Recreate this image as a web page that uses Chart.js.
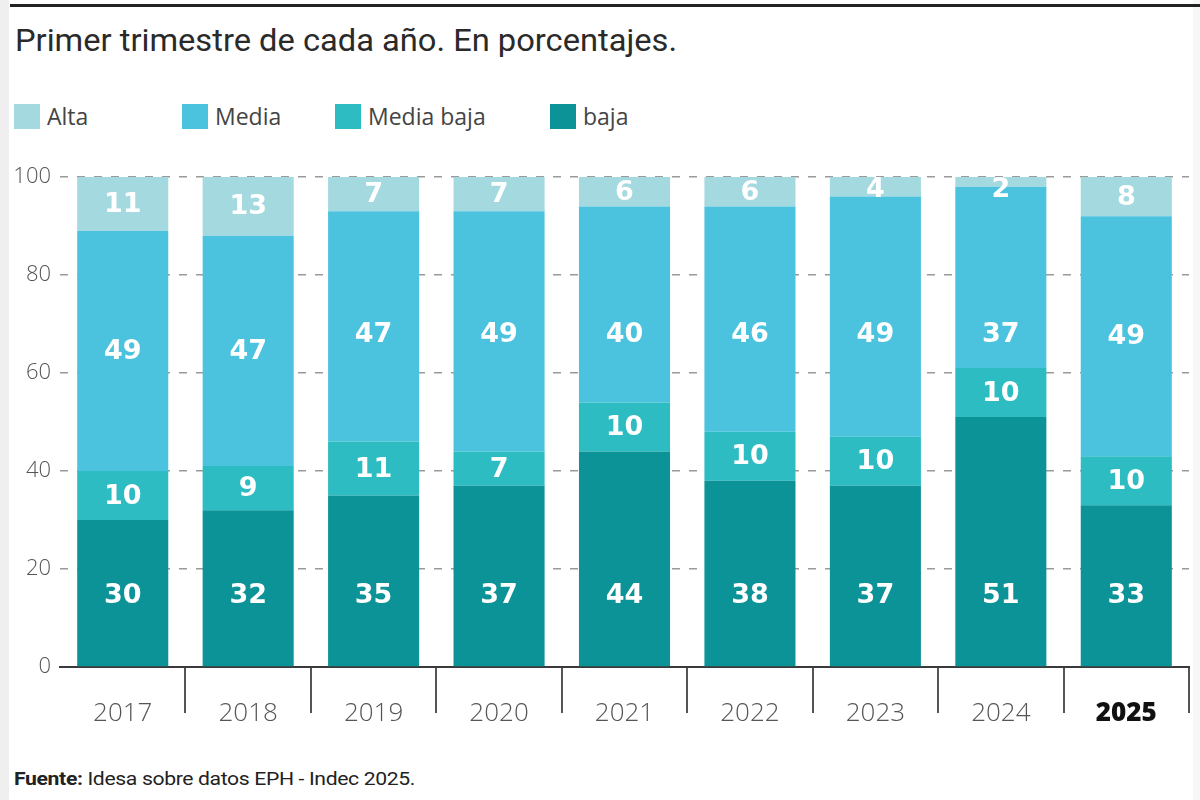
<!DOCTYPE html>
<html>
<head>
<meta charset="utf-8">
<script src="https://cdn.jsdelivr.net/npm/chart.js@4.4.1/dist/chart.umd.min.js"></script>
<style>
  html, body { margin: 0; padding: 0; background: #ffffff; }
  #wrap { position: relative; width: 1200px; height: 800px; overflow: hidden; background: #fff; }
  #lstrip { position: absolute; left: 0; top: 0; width: 9px; height: 800px; background: #efefef; }
  #rstrip { position: absolute; right: 0; top: 0; width: 7px; height: 800px; background: #f7f7f7; }
  #topline { position: absolute; left: 10px; top: 4px; width: 1190px; height: 3px; background: #222; }
  #title { position: absolute; left: 15px; top: 24px; font-family: Roboto, "Open Sans", sans-serif; font-size: 32px; line-height: 32px; color: #2a2a2a; white-space: nowrap; transform-origin: 0 0; }
  #legend { position: absolute; left: 0; top: 103px; width: 1200px; height: 26px; }
  .li { position: absolute; top: 0; height: 26px; display: flex; align-items: center; font-family: "Open Sans", sans-serif; font-size: 23px; color: #444; white-space: nowrap; }
  .li .sw { width: 26px; height: 25px; margin-right: 7px; }
  #canvasBox { position: absolute; left: 0; top: 150px; width: 1200px; height: 610px; }
  #source { position: absolute; left: 14px; top: 770px; font-family: Roboto, sans-serif; font-size: 18px; line-height: 18px; color: #222; white-space: nowrap; transform-origin: 0 0; letter-spacing: -0.3px; }
  #source b { font-weight: 700; }
</style>
</head>
<body>
<div id="wrap">
  <div id="lstrip"></div>
  <div id="rstrip"></div>
  <div id="topline"></div>
  <div id="title">Primer trimestre de cada año. En porcentajes.</div>
  <div id="legend"></div>
  <div id="canvasBox"><canvas id="c" width="1200" height="610"></canvas></div>
  <div id="source"><b>Fuente:</b> Idesa sobre datos EPH - Indec 2025.</div>
</div>
<script>
// ---- data ----
const years = ["2017", "2018", "2019", "2020", "2021", "2022", "2023", "2024", "2025"];
const seriesNames = ["Alta", "Media", "Media baja", "baja"];
const alta = [11, 13, 7, 7, 6, 6, 4, 2, 8];
const media = [49, 47, 47, 49, 40, 46, 49, 37, 49];
const mediaBaja = [10, 9, 11, 7, 10, 10, 10, 10, 10];
const baja = [30, 32, 35, 37, 44, 38, 37, 51, 33];
const yTicks = [0, 20, 40, 60, 80, 100];

// ---- styles ----
const colors = { "Alta": "#a4d9e0", "Media": "#4cc3de", "Media baja": "#2dbcc2", "baja": "#0b9397" };
const legendLeft = [14, 182, 335, 550];
// labels sit at the segment centre, but never higher than this level (axis units)
const labelCap = { "baja": 14.6, "Media": 68 };

// legend (HTML)
const legendEl = document.getElementById('legend');
seriesNames.forEach((name, i) => {
  const item = document.createElement('div');
  item.className = 'li';
  item.style.left = legendLeft[i] + 'px';
  const sw = document.createElement('span');
  sw.className = 'sw';
  sw.style.background = colors[name];
  const tx = document.createElement('span');
  tx.textContent = name;
  item.appendChild(sw); item.appendChild(tx);
  legendEl.appendChild(item);
});

// fit widths of title and source to the reference widths
function fitWidth(id, target) {
  const el = document.getElementById(id);
  const w = el.getBoundingClientRect().width;
  if (w > 0) el.style.transform = 'scaleX(' + (target / w) + ')';
}
fitWidth('title', 662);
fitWidth('source', 401);

// stacking order bottom -> top
const stackOrder = [
  { name: "baja", data: baja },
  { name: "Media baja", data: mediaBaja },
  { name: "Media", data: media },
  { name: "Alta", data: alta }
];

const labelPlugin = {
  id: 'barLabels',
  afterDatasetsDraw(chart) {
    const ctx = chart.ctx;
    const area = chart.chartArea;
    const yScale = chart.scales.y;
    ctx.save();
    ctx.font = 'bold 27px "DejaVu Sans", sans-serif';
    ctx.fillStyle = '#ffffff';
    ctx.textAlign = 'center';
    ctx.textBaseline = 'middle';
    chart.data.datasets.forEach((ds, i) => {
      const meta = chart.getDatasetMeta(i);
      const cap = labelCap[ds.label];
      meta.data.forEach((bar, j) => {
        const top = Math.max(Math.min(bar.y, bar.base), area.top);
        const bottom = Math.max(bar.y, bar.base);
        let y = (top + bottom) / 2;
        if (cap !== undefined) y = Math.max(y, yScale.getPixelForValue(cap));
        y = Math.max(y, area.top + 12);
        ctx.fillText(String(ds.data[j]), bar.x, y + 1);
      });
    });
    ctx.restore();
  }
};

const lastIdx = years.length - 1;

new Chart(document.getElementById('c'), {
  type: 'bar',
  data: {
    labels: years,
    datasets: stackOrder.map(s => ({
      label: s.name,
      data: s.data,
      backgroundColor: colors[s.name],
      borderWidth: 0,
      categoryPercentage: 1.0,
      barPercentage: 0.726
    }))
  },
  options: {
    responsive: false,
    animation: false,
    devicePixelRatio: 1,
    layout: { padding: { top: 27, right: 11, bottom: 13, left: 0 } },
    plugins: { legend: { display: false }, tooltip: { enabled: false }, title: { display: false } },
    scales: {
      x: {
        stacked: true,
        offset: true,
        grid: {
          offset: true,
          drawOnChartArea: false,
          drawTicks: true,
          tickLength: 46,
          lineWidth: 2,
          color: (c) => (c.index === 0 || c.index === years.length) ? 'rgba(0,0,0,0)' : '#555555'
        },
        border: { display: true, color: '#3a3a3a', width: 2 },
        ticks: {
          padding: -15,
          maxRotation: 0,
          autoSkip: false,
          font: (c) => ({ family: '"Open Sans", sans-serif', size: 26, weight: c.index === lastIdx ? '800' : '300' }),
          color: (c) => c.index === lastIdx ? '#111111' : '#555555'
        },
        afterFit(scale) { scale.height = 80; }
      },
      y: {
        stacked: true,
        min: 0,
        max: 100,
        afterBuildTicks(scale) { scale.ticks = yTicks.map(v => ({ value: v })); },
        grid: {
          drawTicks: false,
          color: '#9a9a9a',
          lineWidth: 1.4
        },
        border: { display: false, dash: [8, 9] },
        ticks: {
          padding: 9,
          font: { family: '"Open Sans", sans-serif', size: 22, weight: '300' },
          color: '#555555'
        },
        afterFit(scale) { scale.width = 60; }
      }
    }
  },
  plugins: [labelPlugin]
});
</script>
</body>
</html>
